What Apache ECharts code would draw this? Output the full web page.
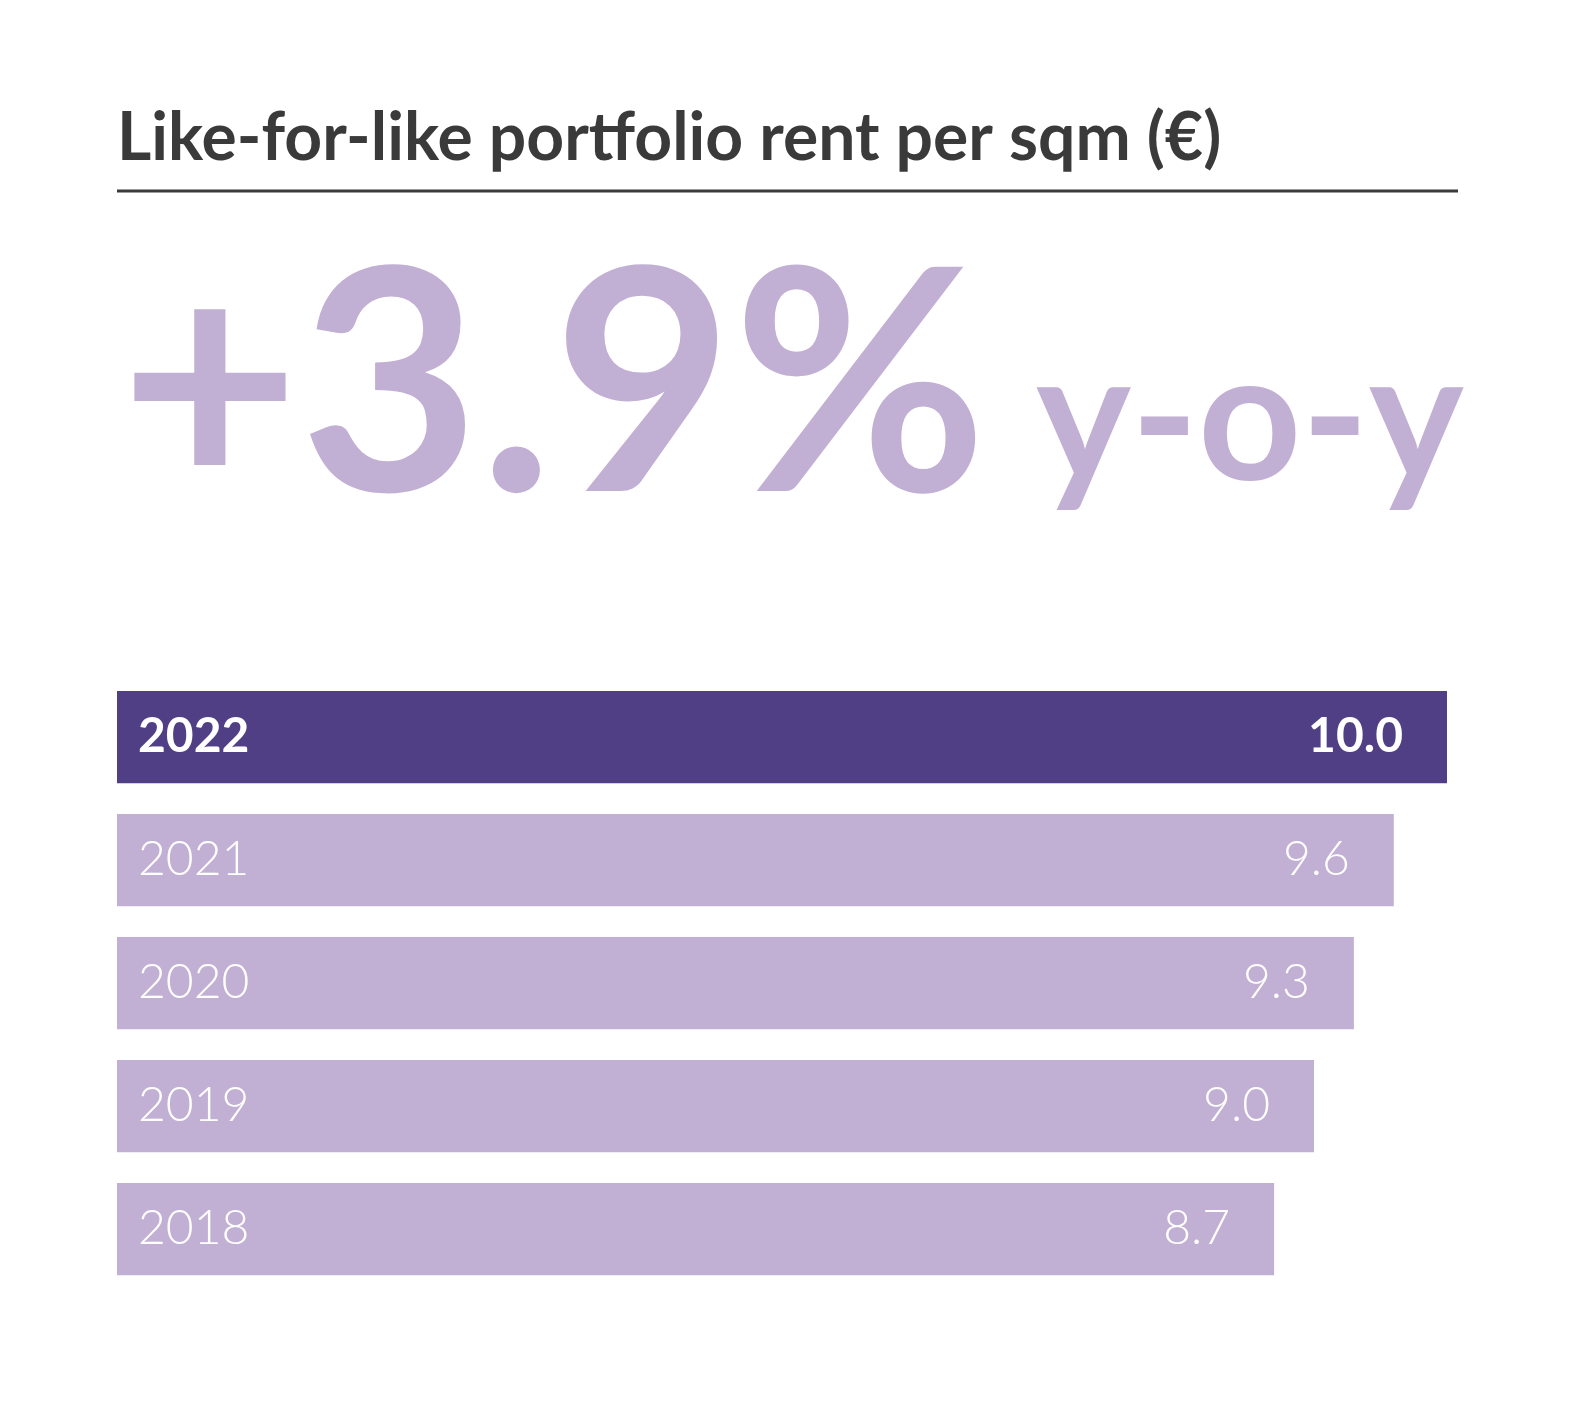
<!DOCTYPE html>
<html>
<head>
<meta charset="utf-8">
<script src="https://cdn.jsdelivr.net/npm/echarts@6/dist/echarts.min.js"></script>
<style>html,body{margin:0;background:#fff}#chart{width:1583px;height:1417px}</style>
</head>
<body>
<div id="chart"></div>
<script>
const years = ["2022", "2021", "2020", "2019", "2018"];
const rents = [10.0, 9.6, 9.3, 9.0, 8.7];
const headline = "+3.9%";
const subline = "y-o-y";

const dark = "#503f84";
const light = "#c2b0d4";

const chart = echarts.init(document.getElementById("chart"));
chart.setOption({
  animation: false,
  grid: { left: 117, right: 136, top: 675.5, height: 615 },
  xAxis: { type: "value", min: 0, max: 10, show: false },
  yAxis: {
    type: "category",
    data: years,
    inverse: true,
    z: 10,
    axisLine: { show: false },
    axisTick: { show: false },
    axisLabel: {
      inside: true,
      margin: 21,
      fontFamily: "Lato",
      fontSize: 48,
      color: "#fff",
      formatter: (v) => (v === years[0] ? "{b|" + v + "}" : "{n|" + v + "}"),
      rich: {
        b: { fontFamily: "Lato", fontSize: 48, fontWeight: "bold", color: "#fff" },
        n: { fontFamily: "Lato", fontSize: 48, fontWeight: 300, color: "#fff" },
      },
    },
  },
  series: [
    {
      type: "bar",
      barCategoryGap: "25%",
      data: rents.map((v, i) => ({
        value: v,
        itemStyle: { color: i === 0 ? dark : light },
        label: { fontWeight: i === 0 ? "bold" : 300 },
      })),
      label: {
        show: true,
        position: "insideRight",
        distance: 44,
        fontFamily: "Lato",
        fontSize: 48,
        color: "#fff",
        formatter: (p) => p.value.toFixed(1),
      },
    },
  ],
  graphic: [
    {
      type: "text", left: 117, top: 106,
      style: { text: "Like-for-like portfolio rent per sqm (€)", fontFamily: "Lato", fontSize: 66, fontWeight: "bold", fill: "#3a3a3a", letterSpacing: 1.5 },
    },
    {
      type: "rect", shape: { x: 117, y: 189.5, width: 1341, height: 3 },
      style: { fill: "#3a3a3a" },
    },
    {
      type: "text", left: 120, top: 236,
      style: { text: headline, fontFamily: "Lato", fontSize: 310, fontWeight: "bold", fill: light, letterSpacing: -8 },
    },
    {
      type: "text", left: 1036, top: 332,
      style: { text: subline, fontFamily: "Lato", fontSize: 180, fontWeight: "bold", fill: light },
    },
  ],
});
</script>
</body>
</html>
